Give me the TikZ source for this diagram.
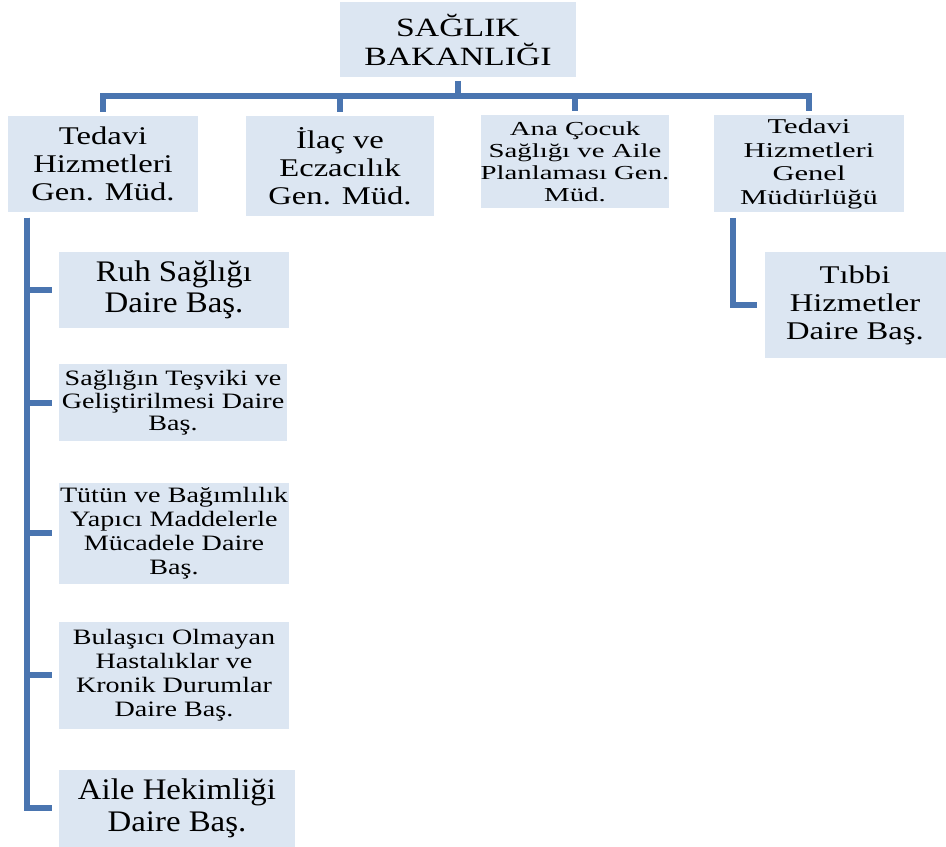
\documentclass[tikz,border=0pt]{standalone}
\usepackage{fontspec}
\setmainfont{Liberation Serif}
\newfontfamily\fsA[FakeStretch=1.1]{Liberation Serif}
\newfontfamily\fsB[FakeStretch=1.28]{Liberation Serif}
\newfontfamily\fsC[FakeStretch=1.45]{Liberation Serif}
\definecolor{boxblue}{RGB}{220,230,242}
\definecolor{linkblue}{RGB}{74,117,176}
\tikzset{
  unit/.style 2 args={fill=boxblue, align=center, inner sep=0pt,
    minimum width=#1*0.02cm, minimum height=#2*0.02cm},
  link/.style={draw=linkblue, line width=0.11cm}
}
\begin{document}
\begin{tikzpicture}[x=0.02cm, y=-0.02cm]
\useasboundingbox (0,0) rectangle (946,847);

% top level
\node[unit={236}{75}, font=\fsB\fontsize{15}{17}\selectfont] (top) at (458,40) {SAĞLIK\\BAKANLIĞI};

% general directorates
\node[unit={190}{96}, font=\fsB\fontsize{14.5}{15.9}\selectfont] (g1) at (103,164) {Tedavi\\Hizmetleri\\Gen. Müd.};
\node[unit={188}{100}, font=\fsB\fontsize{14.5}{15.9}\selectfont] (g2) at (340,166) {İlaç ve\\Eczacılık\\Gen. Müd.};
\node[unit={186}{93}, font=\fsC\fontsize{11.3}{12.5}\selectfont] (g3) at (575,162) {Ana Çocuk\\Sağlığı ve Aile\\Planlaması Gen.\\Müd.};
\node[unit={190}{97}, font=\fsC\fontsize{12}{13.4}\selectfont] (g4) at (809,164) {Tedavi\\Hizmetleri\\Genel\\Müdürlüğü};

% departments
\node[unit={230}{76}, font=\fsA\fontsize{17}{18}\selectfont] (d1) at (174,290) {Ruh Sağlığı\\Daire Baş.};
\node[unit={228}{77}, font=\fsB\fontsize{12.5}{12.7}\selectfont] (d2) at (173,403) {Sağlığın Teşviki ve\\Geliştirilmesi Daire\\Baş.};
\node[unit={230}{101}, font=\fsB\fontsize{12.5}{13.6}\selectfont] (d3) at (174,533) {Tütün ve Bağımlılık\\Yapıcı Maddelerle\\Mücadele Daire\\Baş.};
\node[unit={230}{107}, font=\fsB\fontsize{12.5}{13.6}\selectfont] (d4) at (174,675) {Bulaşıcı Olmayan\\Hastalıklar ve\\Kronik Durumlar\\Daire Baş.};
\node[unit={236}{77}, font=\fsA\fontsize{17}{18}\selectfont] (d5) at (177,808) {Aile Hekimliği\\Daire Baş.};
\node[unit={181}{106}, font=\fsB\fontsize{14.5}{15.9}\selectfont] (t1) at (855,305) {Tıbbi\\Hizmetler\\Daire Baş.};

% connectors
\coordinate (bar) at (458,96);
\coordinate (lt) at (27,218);
\coordinate (rt) at (733,218);
\draw[link, shorten <=0.06cm] (top.south) -- (bar);
\foreach \g in {g1,g2,g3,g4} {\draw[link, shorten >=0.08cm] (bar) -| (\g.north);}
\foreach \d in {d1,d2,d3,d4,d5} {\draw[link, shorten >=0.14cm] (lt) |- (\d.west);}
\draw[link, shorten >=0.14cm] (rt) |- (t1.west);

\end{tikzpicture}
\end{document}
